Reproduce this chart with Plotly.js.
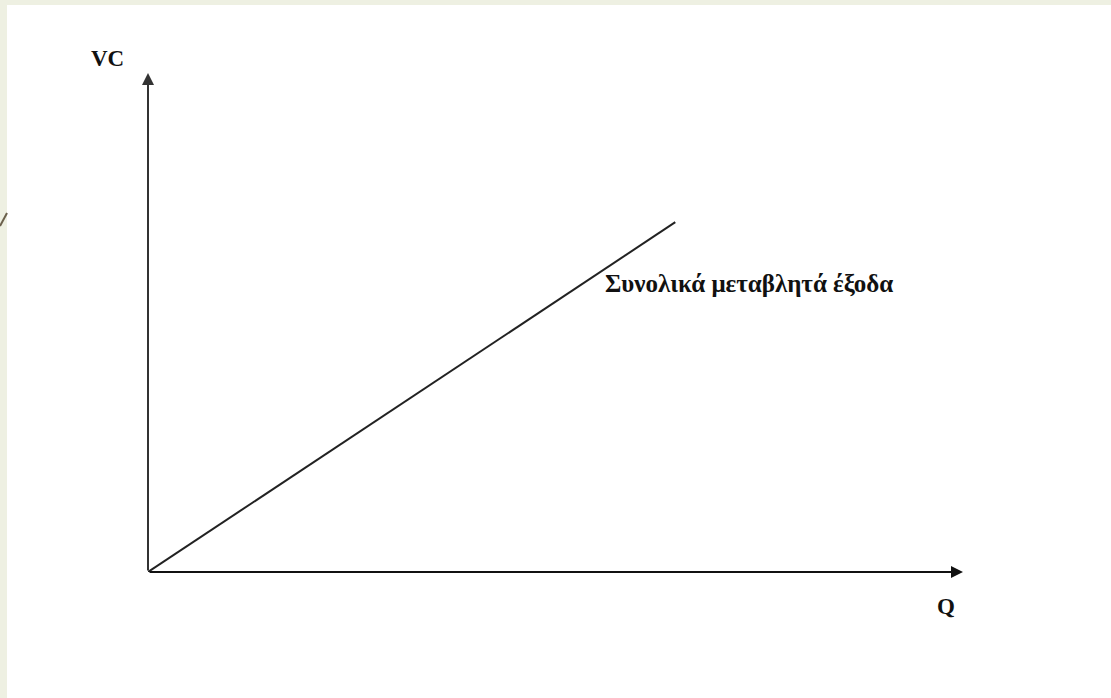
<!DOCTYPE html>
<html>
<head>
<meta charset="utf-8">
<script src="https://cdn.plot.ly/plotly-3.0.1.min.js"></script>
<style>html,body{margin:0;padding:0;background:#eef0e2;}#chart{width:1111px;height:698px;}</style>
</head>
<body>
<div id="chart"></div>
<script>
// Data
const quantity = [0, 6.47];
const variableCost = [0, 7.01];
const axisMax = [10, 10];
const curveLabel = "Συνολικά μεταβλητά έξοδα";
const yLabel = "VC";
const xLabel = "Q";

const W = 1111, H = 698;
const L = 148, R = 148, T = 73, B = 126;
const pw = W - L - R, ph = H - T - B;
function px(xp){ return (xp - L) / pw; }
function py(yp){ return (H - B - yp) / ph; }

const serif = "Liberation Serif, Times New Roman, serif";

const trace = {
  x: quantity, y: variableCost, mode: "lines", type: "scatter",
  line: {color: "#222222", width: 2}, hoverinfo: "skip", showlegend: false, cliponaxis: false
};

const layout = {
  width: W, height: H,
  margin: {l: L, r: R, t: T, b: B, pad: 0},
  paper_bgcolor: "#eef0e2",
  plot_bgcolor: "rgba(0,0,0,0)",
  showlegend: false,
  xaxis: {range: [0, axisMax[0]], visible: false, fixedrange: true},
  yaxis: {range: [0, axisMax[1]], visible: false, fixedrange: true},
  shapes: [
    {type: "rect", xref: "paper", yref: "paper", x0: px(7), x1: px(1115), y0: py(5), y1: py(702),
     fillcolor: "#ffffff", line: {width: 0}, layer: "below"},
    {type: "line", xref: "paper", yref: "paper", x0: px(0), y0: py(226), x1: px(7), y1: py(213),
     line: {color: "#6b604c", width: 2}, layer: "below"}
  ],
  annotations: [
    {x: axisMax[0], y: 0, ax: 0, ay: 0, xref: "x", yref: "y", axref: "x", ayref: "y",
     text: "", showarrow: true, arrowhead: 2, arrowsize: 1.2, arrowwidth: 2, arrowcolor: "#111111"},
    {x: 0, y: axisMax[1], ax: 0, ay: 0, xref: "x", yref: "y", axref: "x", ayref: "y",
     text: "", showarrow: true, arrowhead: 2, arrowsize: 1.2, arrowwidth: 2, arrowcolor: "#333333"},
    {x: px(603), y: py(283), xref: "paper", yref: "paper", xanchor: "left", yanchor: "middle",
     text: "<b>" + curveLabel + "</b>", showarrow: false, font: {family: serif, size: 25, color: "#111111"}},
    {x: px(107), y: py(59), xref: "paper", yref: "paper", xanchor: "center", yanchor: "middle",
     text: "<b>" + yLabel + "</b>", showarrow: false, font: {family: serif, size: 23, color: "#111111"}},
    {x: px(946), y: py(606), xref: "paper", yref: "paper", xanchor: "center", yanchor: "middle",
     text: "<b>" + xLabel + "</b>", showarrow: false, font: {family: serif, size: 23, color: "#111111"}}
  ]
};

Plotly.newPlot("chart", [trace], layout, {displayModeBar: false, staticPlot: true});
</script>
</body>
</html>
